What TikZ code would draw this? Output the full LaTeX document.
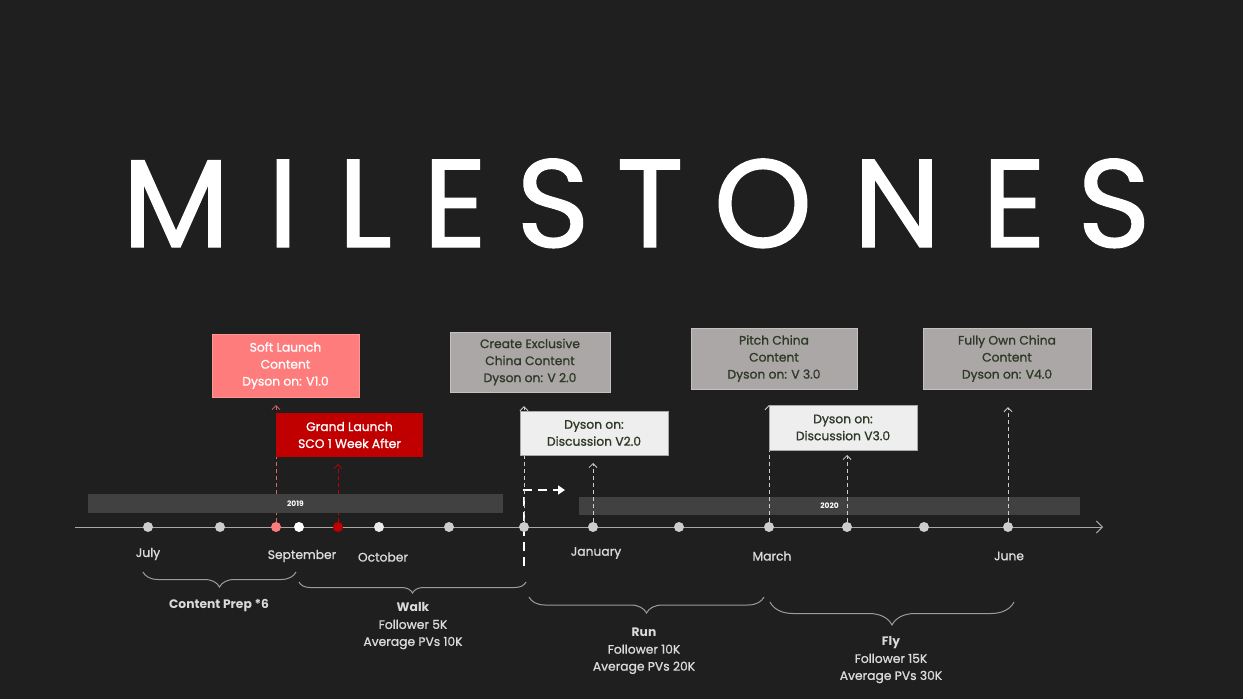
\documentclass[tikz,border=0pt]{standalone}
\usepackage{fontspec}
\setmainfont{Poppins}[BoldFont=Poppins, BoldFeatures={FakeBold=1.1}]
\newfontfamily\heavyfont{Poppins}
\usetikzlibrary{arrows.meta, decorations.pathreplacing}

\definecolor{bgdark}{HTML}{1F1F1F}
\definecolor{yearbar}{HTML}{414141}
\definecolor{axisgray}{HTML}{A8A8A8}
\definecolor{dotgray}{HTML}{CDCDCD}
\definecolor{dotlight}{HTML}{EBEBEB}
\definecolor{softpink}{HTML}{FF7C7C}
\definecolor{grandred}{HTML}{C00000}
\definecolor{boxgray}{HTML}{ABA7A6}
\definecolor{boxlight}{HTML}{EEEEEE}
\definecolor{boxtext}{HTML}{2E3A27}
\definecolor{labelgray}{HTML}{DADADA}
\definecolor{bracegray}{HTML}{9C9C9C}

\tikzset{
    dot/.style={circle, inner sep=0pt, minimum size=10pt},
    milebox/.style={inner sep=0pt, align=center, font=\fontsize{12.3}{17}\bfseries},
    pinkbox/.style={milebox, fill=softpink, draw=softpink!80!white, text=white},
    redbox/.style={milebox, fill=grandred, text=white},
    graybox/.style={milebox, fill=boxgray, draw=boxgray!70!white, text=boxtext},
    lightbox/.style={milebox, fill=boxlight, draw=boxgray, text=boxtext},
    uparrow/.style={dash pattern=on 4pt off 3pt, line width=0.8pt, -{Straight Barb[length=4pt, width=8pt]}},
    month/.style={text=labelgray, font=\fontsize{12.3}{14}\bfseries},
    phase/.style={text=labelgray, align=center, font=\fontsize{12.3}{17}\bfseries},
    phasebrace/.style={draw=bracegray, line width=1pt, decoration={brace, mirror, amplitude=#1}, decorate}
}

\begin{document}
\begin{tikzpicture}[x=1pt, y=-1pt]
            % background
            \fill[bgdark] (0,0) rectangle (1243,699);
            \useasboundingbox (0,0) rectangle (1243,699);

            % title
            \foreach \ch/\x in {M/176, I/283, L/365, E/455, S/553, T/650, O/763, N/897, E/1014, S/1114}
                {
                    \node[anchor=base, text=white, inner sep=0pt, font=\fontsize{125}{125}\bfseries] (title\x) at (\x, 247) {\ch};
                }

            % timeline
            \coordinate (axisstart) at (75, 527);
            \coordinate (axisend) at (1103, 527);
            \draw[axisgray, line width=1pt, -{Straight Barb[length=6pt, width=12pt]}] (axisstart) -- (axisend);

            % shift to 2020
            \coordinate (shiftlow) at (524, 566);
            \coordinate (shiftend) at (565, 490);
            \draw[white, line width=2.5pt, dash pattern=on 9pt off 6pt, -{Triangle[length=7pt, width=9pt]}] (shiftlow) |- (shiftend);

            % months
            \foreach \n/\x/\c in {1/148/dotgray, 2/220/dotgray, 3/276/softpink, 4/299/white, 5/338/grandred, 6/379/dotlight, 7/449/dotgray, 8/524/dotgray, 9/593/dotgray, 10/679/dotgray, 11/769/dotgray, 12/847/dotgray, 13/924/dotgray, 14/1008/dotgray}
                {
                    \node[dot, fill=\c] (d\n) at (\x, 527) {};
                }

            % launch arrows
            \draw[uparrow, softpink!85!black] (d3) -- ([yshift=-8pt]d3 |- 0,397);
            \draw[uparrow, grandred] (d5) -- (338, 464);

            % years
            \node[fill=yearbar, minimum width=415pt, minimum height=19pt, inner sep=0pt, text=white, font=\fontsize{7.5}{8}\heavyfont\bfseries] (y2019) at (295.5, 503.5) {2019};
            \node[fill=yearbar, minimum width=501pt, minimum height=18pt, inner sep=0pt, text=white, font=\fontsize{7.5}{8}\heavyfont\bfseries] (y2020) at (829.5, 506) {2020};

            % boxes
            \node[pinkbox, minimum width=147pt, minimum height=63pt] (soft) at (285.5, 365.5) {Soft Launch\\Content\\Dyson on: V1.0};
            \node[graybox, minimum width=160pt, minimum height=60pt] (create) at (530, 362) {Create Exclusive\\China Content\\Dyson on: V 2.0};
            \node[graybox, minimum width=166pt, minimum height=61pt] (pitch) at (774, 358.5) {Pitch China\\Content\\Dyson on: V 3.0};
            \node[graybox, minimum width=168pt, minimum height=61pt] (fully) at (1007, 358.5) {Fully Own China\\Content\\Dyson on: V4.0};

            % other arrows
            \draw[uparrow, dotgray] (d8) -- ([yshift=-14pt]d8 |- create.south);
            \draw[uparrow, dotgray] (d9) -- (593, 463);
            \draw[uparrow, dotgray] (d11) -- ([yshift=-16pt]d11 |- pitch.south);
            \draw[uparrow, dotgray] (d12) -- (847, 455);
            \draw[uparrow, dotgray] (d14) -- ([yshift=-18pt]d14 |- fully.south);

            % front boxes
            \node[redbox, minimum width=147pt, minimum height=44pt] (grand) at (349.5, 435) {Grand Launch\\SCO 1 Week After};
            \node[lightbox, minimum width=148pt, minimum height=44pt] (disc2) at (594, 433) {Dyson on:\\Discussion V2.0};
            \node[lightbox, minimum width=148pt, minimum height=45pt] (disc3) at (843, 427.5) {Dyson on:\\Discussion V3.0};

            % month names
            \node[month] (july) at (148, 554) {July};
            \node[month] (sep) at (302, 556) {September};
            \node[month] (oct) at (383, 557) {October};
            \node[month] (jan) at (596, 553) {January};
            \node[month] (mar) at (772, 556) {March};
            \node[month] (jun) at (1009, 556) {June};

            % phases
            \draw[phasebrace=15pt] (143, 572) -- (296, 572);
            \draw[phasebrace=11pt] (299, 582) -- (526, 582);
            \draw[phasebrace=16pt] (529, 597) -- (764, 597);
            \draw[phasebrace=23pt] (770, 602) -- (1014, 602);

            \node[phase, font=\fontsize{12.3}{17}\heavyfont\bfseries] (prep) at (219, 606) {Content Prep *6};
            \node[phase] (walk) at (413, 626) {{\heavyfont\bfseries Walk}\\Follower 5K\\Average PVs 10K};
            \node[phase] (run) at (644, 651) {{\heavyfont\bfseries Run}\\Follower 10K\\Average PVs 20K};
            \node[phase] (fly) at (891, 660) {{\heavyfont\bfseries Fly}\\Follower 15K\\Average PVs 30K};

        \end{tikzpicture}
\end{document}
